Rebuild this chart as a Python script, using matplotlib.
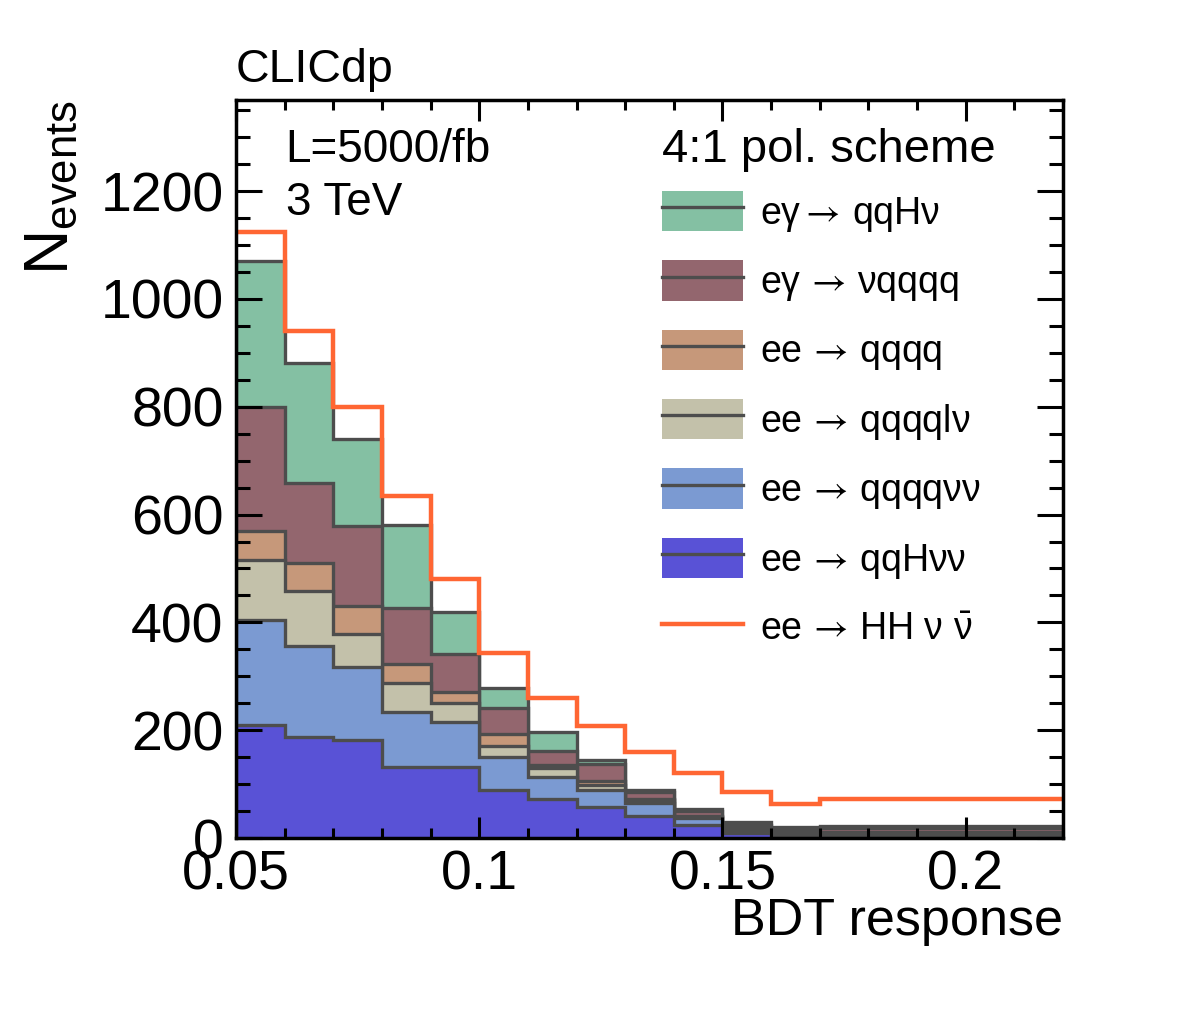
import matplotlib
matplotlib.use('Agg')
import matplotlib.pyplot as plt
import numpy as np
from matplotlib.patches import Patch
from matplotlib.lines import Line2D
from matplotlib.ticker import MultipleLocator

plt.rcParams['font.family'] = ['Liberation Sans', 'DejaVu Sans']
plt.rcParams['mathtext.fontset'] = 'custom'
plt.rcParams['mathtext.rm'] = 'Liberation Sans'
plt.rcParams['mathtext.it'] = 'Liberation Sans:italic'
plt.rcParams['mathtext.sf'] = 'STIXGeneral'   # only used for the long arrow
plt.rcParams['mathtext.default'] = 'regular'

# BDT response bins (last bin is wide)
edges = np.array([0.05, 0.06, 0.07, 0.08, 0.09, 0.10, 0.11, 0.12, 0.13,
                  0.14, 0.15, 0.16, 0.17, 0.22])

# backgrounds, bottom of the stack first
qqHvv   = [209, 188, 181, 131, 132, 89, 72, 58, 41, 24, 9, 5, 5]
qqqqvv  = [195, 169, 137, 103, 83, 62, 41, 31, 24, 13, 5, 2, 2]
qqqqlv  = [111, 101, 60, 54, 35, 19, 17, 9, 5, 2, 2, 2, 2]
qqqq    = [55, 53, 53, 34, 20, 23, 6, 8, 2, 2, 2, 2, 3]
ea_vqqqq = [230, 148, 147, 104, 72, 48, 25, 31, 13, 9, 6, 5, 6]
ea_qqHv  = [270, 223, 163, 154, 77, 37, 36, 7, 4, 4, 5, 4, 5]

# signal
HHvv = [1124, 941, 800, 635, 480, 344, 259, 207, 159, 120, 85, 63, 72]

arr = '$\\,\\mathsf{\\rightarrow}\\,$'
labels = ['ee' + arr + 'qqH\u03bd\u03bd', 'ee' + arr + 'qqqq\u03bd\u03bd',
          'ee' + arr + 'qqqql\u03bd', 'ee' + arr + 'qqqq',
          'e\u03b3' + arr + '\u03bdqqqq', 'e\u03b3$\\mathsf{\\rightarrow}\\,$qqH\u03bd']
sig_label = 'ee' + arr + 'HH \u03bd $\\bar{\\nu}$'
colors = ['#5952d6', '#7b9ad2', '#c3c1aa', '#c6987a', '#93666e', '#84c0a3']
edge = '#4d4d4d'

stack = np.array([qqHvv, qqqqvv, qqqqlv, qqqq, ea_vqqqq, ea_qqHv])
cum = np.cumsum(stack, axis=0)

fig = plt.figure(figsize=(11.82, 10.11), dpi=100)
ax = fig.add_axes([0.1997, 0.1711, 0.6996, 0.7300])

# draw cumulative histograms from the top down, ROOT THStack style
for i in reversed(range(len(stack))):
    ax.stairs(cum[i], edges, baseline=0, fill=True, facecolor=colors[i], edgecolor='none')
    ax.stairs(cum[i], edges, baseline=0, color=edge, lw=2.4)

ax.stairs(HHvv, edges, baseline=None, color='#ff6633', lw=3.2)

ax.set_xlim(0.05, 0.22)
ax.set_ylim(0, 1369)
ax.xaxis.set_major_locator(MultipleLocator(0.05))
ax.xaxis.set_minor_locator(MultipleLocator(0.01))
ax.yaxis.set_major_locator(MultipleLocator(200))
ax.yaxis.set_minor_locator(MultipleLocator(50))
ax.set_xticks([0.05, 0.1, 0.15, 0.2])
ax.set_xticklabels(['0.05', '0.1', '0.15', '0.2'])

ax.tick_params(which='both', direction='in', top=True, right=True, width=2.2)
ax.tick_params(axis='x', which='major', length=15, labelsize=40, pad=8)
ax.tick_params(axis='x', which='minor', length=7.5)
ax.tick_params(axis='y', which='major', length=19, labelsize=40, pad=9)
ax.tick_params(axis='y', which='minor', length=10)
for s in ax.spines.values():
    s.set_linewidth(2.5)

ax.set_xlabel('BDT response', fontsize=37.5, loc='right')
ax.xaxis.label.set_va('baseline')
ax.xaxis.set_label_coords(1.0, -0.1314)
ax.set_ylabel('N$_{\\rm events}$', fontsize=45, loc='top')
ax.yaxis.set_label_coords(-0.187, 1.0)

ax.text(0.0, 1.0248, 'CLICdp', transform=ax.transAxes, fontsize=33.5, va='baseline', ha='left')
ax.text(0.06, 0.9164, 'L=5000/fb', transform=ax.transAxes, fontsize=33, va='baseline')
ax.text(0.06, 0.8442, '3 TeV', transform=ax.transAxes, fontsize=33, va='baseline')
ax.text(0.515, 0.9164, '4:1 pol. scheme', transform=ax.transAxes, fontsize=34, va='baseline')

handles = []
for c in reversed(colors):
    handles.append((Patch(facecolor=c, edgecolor='none'), Line2D([], [], color=edge, lw=2.4)))
handles.append(Line2D([], [], color='#ff6633', lw=3.2))
leg = ax.legend(handles, list(reversed(labels)) + [sig_label],
                loc='upper left', bbox_to_anchor=(0.515, 0.877), frameon=False,
                fontsize=27, handlelength=2.16, handleheight=1.28,
                handletextpad=0.45, labelspacing=0.71, borderpad=0, borderaxespad=0)

fig.savefig('out.png', dpi=100)
